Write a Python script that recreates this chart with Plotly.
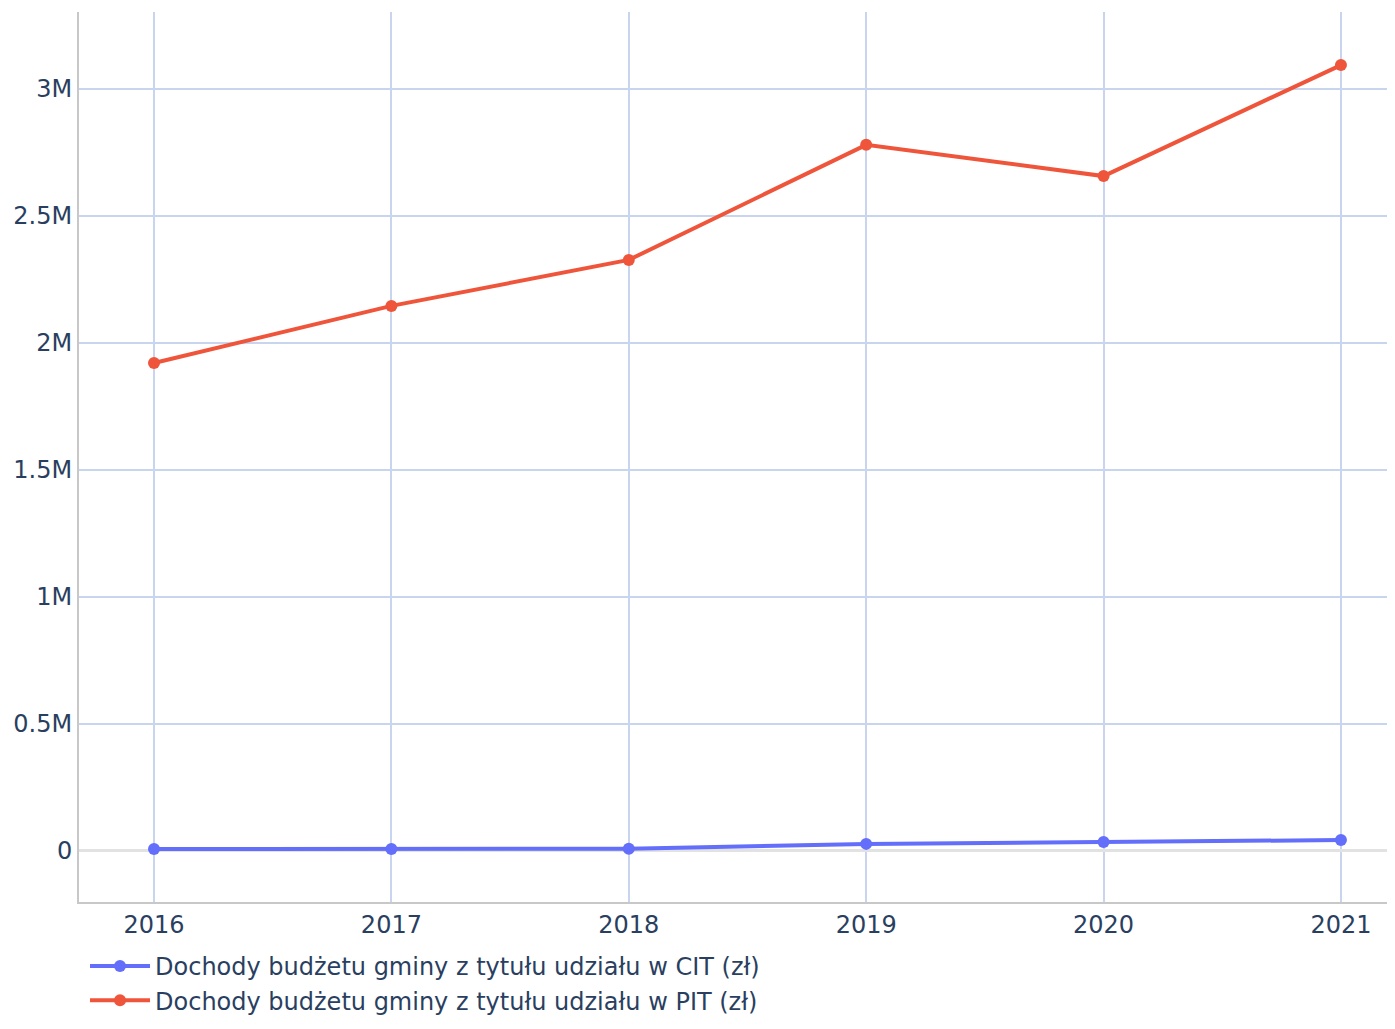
import plotly.graph_objects as go

years = [2016, 2017, 2018, 2019, 2020, 2021]
cit_values = [8000, 8000, 9000, 28000, 35000, 43000]
pit_values = [1921000, 2146000, 2327000, 2780000, 2657000, 3094000]
cit_name = "Dochody budżetu gminy z tytułu udziału w CIT (zł)"
pit_name = "Dochody budżetu gminy z tytułu udziału w PIT (zł)"
y_tick_vals = [0, 500000, 1000000, 1500000, 2000000, 2500000, 3000000]
y_tick_text = ["0", "0.5M", "1M", "1.5M", "2M", "2.5M", "3M"]

fig = go.Figure()
fig.add_trace(go.Scatter(x=years, y=cit_values, mode="lines+markers", name=cit_name,
                         legendgroup="cit",
                         line=dict(color="#636efa", width=4), marker=dict(size=12)))
fig.add_trace(go.Scatter(x=years, y=pit_values, mode="lines+markers", name=pit_name,
                         legendgroup="pit",
                         line=dict(color="#EF553B", width=4), marker=dict(size=12)))

fig.update_layout(
    width=1379, height=1013,
    paper_bgcolor="white", plot_bgcolor="white",
    font=dict(family="DejaVu Sans", size=24, color="#2a3f5f"),
    margin=dict(l=71, r=0, t=4, b=119, autoexpand=False),
    showlegend=True,
    legend=dict(orientation="v", x=0.0046, xanchor="left", y=-0.0472, yanchor="top",
                itemwidth=60, tracegroupgap=0,
                bgcolor="rgba(0,0,0,0)"),
)
fig.update_xaxes(range=[2015.684, 2021.194], tickvals=years, ticktext=[str(y) for y in years],
                 showgrid=True, gridcolor="#c9d5ef", gridwidth=2,
                 showline=True, linecolor="#c8c8c8", linewidth=2, zeroline=False)
fig.update_yaxes(range=[-200800, 3303000], tickvals=y_tick_vals, ticktext=y_tick_text,
                 showgrid=True, gridcolor="#c9d5ef", gridwidth=2,
                 showline=True, linecolor="#c8c8c8", linewidth=2,
                 zeroline=True, zerolinecolor="#e2e2e2", zerolinewidth=3)

fig.write_html("out.html")
